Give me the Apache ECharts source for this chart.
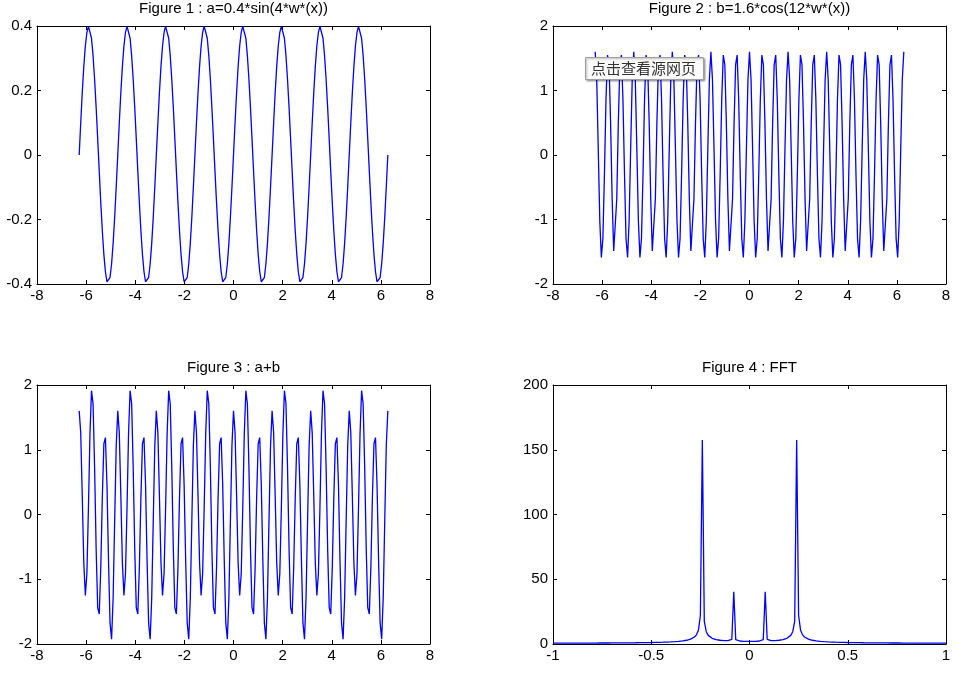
<!DOCTYPE html>
<html><head><meta charset="utf-8">
<script src="https://cdn.jsdelivr.net/npm/echarts@6/dist/echarts.min.js"></script>
<style>html,body{margin:0;padding:0;background:#fff}#c{width:973px;height:675px}</style>
</head><body><div id="c"></div>
<script>
// time samples x (from -2*pi to 2*pi, 201 samples)
const xTime = [
-6.283,-6.220,-6.158,-6.095,-6.032,-5.969,-5.906,-5.843,-5.781,-5.718,
-5.655,-5.592,-5.529,-5.466,-5.404,-5.341,-5.278,-5.215,-5.152,-5.089,
-5.027,-4.964,-4.901,-4.838,-4.775,-4.712,-4.650,-4.587,-4.524,-4.461,
-4.398,-4.335,-4.273,-4.210,-4.147,-4.084,-4.021,-3.958,-3.896,-3.833,
-3.770,-3.707,-3.644,-3.581,-3.519,-3.456,-3.393,-3.330,-3.267,-3.204,
-3.142,-3.079,-3.016,-2.953,-2.890,-2.827,-2.765,-2.702,-2.639,-2.576,
-2.513,-2.450,-2.388,-2.325,-2.262,-2.199,-2.136,-2.073,-2.011,-1.948,
-1.885,-1.822,-1.759,-1.696,-1.634,-1.571,-1.508,-1.445,-1.382,-1.319,
-1.257,-1.194,-1.131,-1.068,-1.005,-0.942,-0.880,-0.817,-0.754,-0.691,
-0.628,-0.565,-0.503,-0.440,-0.377,-0.314,-0.251,-0.188,-0.126,-0.063,
0,
0.063,0.126,0.188,0.251,0.314,0.377,0.440,0.503,0.565,0.628,
0.691,0.754,0.817,0.880,0.942,1.005,1.068,1.131,1.194,1.257,
1.319,1.382,1.445,1.508,1.571,1.634,1.696,1.759,1.822,1.885,
1.948,2.011,2.073,2.136,2.199,2.262,2.325,2.388,2.450,2.513,
2.576,2.639,2.702,2.765,2.827,2.890,2.953,3.016,3.079,3.142,
3.204,3.267,3.330,3.393,3.456,3.519,3.581,3.644,3.707,3.770,
3.833,3.896,3.958,4.021,4.084,4.147,4.210,4.273,4.335,4.398,
4.461,4.524,4.587,4.650,4.712,4.775,4.838,4.901,4.964,5.027,
5.089,5.152,5.215,5.278,5.341,5.404,5.466,5.529,5.592,5.655,
5.718,5.781,5.843,5.906,5.969,6.032,6.095,6.158,6.220,6.283
];

// Figure 1 : a
const aVals = [
0,0.099,0.193,0.274,0.338,0.380,0.399,0.393,0.362,0.308,0.235,0.147,0.050,-0.050,-0.147,-0.235,-0.308,-0.362,-0.393,-0.399,-0.380,-0.338,-0.274,-0.193,-0.099,
0,0.099,0.193,0.274,0.338,0.380,0.399,0.393,0.362,0.308,0.235,0.147,0.050,-0.050,-0.147,-0.235,-0.308,-0.362,-0.393,-0.399,-0.380,-0.338,-0.274,-0.193,-0.099,
0,0.099,0.193,0.274,0.338,0.380,0.399,0.393,0.362,0.308,0.235,0.147,0.050,-0.050,-0.147,-0.235,-0.308,-0.362,-0.393,-0.399,-0.380,-0.338,-0.274,-0.193,-0.099,
0,0.099,0.193,0.274,0.338,0.380,0.399,0.393,0.362,0.308,0.235,0.147,0.050,-0.050,-0.147,-0.235,-0.308,-0.362,-0.393,-0.399,-0.380,-0.338,-0.274,-0.193,-0.099,
0,0.099,0.193,0.274,0.338,0.380,0.399,0.393,0.362,0.308,0.235,0.147,0.050,-0.050,-0.147,-0.235,-0.308,-0.362,-0.393,-0.399,-0.380,-0.338,-0.274,-0.193,-0.099,
0,0.099,0.193,0.274,0.338,0.380,0.399,0.393,0.362,0.308,0.235,0.147,0.050,-0.050,-0.147,-0.235,-0.308,-0.362,-0.393,-0.399,-0.380,-0.338,-0.274,-0.193,-0.099,
0,0.099,0.193,0.274,0.338,0.380,0.399,0.393,0.362,0.308,0.235,0.147,0.050,-0.050,-0.147,-0.235,-0.308,-0.362,-0.393,-0.399,-0.380,-0.338,-0.274,-0.193,-0.099,
0,0.099,0.193,0.274,0.338,0.380,0.399,0.393,0.362,0.308,0.235,0.147,0.050,-0.050,-0.147,-0.235,-0.308,-0.362,-0.393,-0.399,-0.380,-0.338,-0.274,-0.193,-0.099,
0
];

// Figure 2 : b
const bVals = [
1.600,1.166,0.100,-1.020,-1.587,-1.294,-0.300,0.857,1.550,1.402,0.494,-0.681,-1.488,-1.488,-0.681,0.494,1.402,1.550,0.857,-0.300,-1.294,-1.587,-1.020,0.100,1.166,
1.600,1.166,0.100,-1.020,-1.587,-1.294,-0.300,0.857,1.550,1.402,0.494,-0.681,-1.488,-1.488,-0.681,0.494,1.402,1.550,0.857,-0.300,-1.294,-1.587,-1.020,0.100,1.166,
1.600,1.166,0.100,-1.020,-1.587,-1.294,-0.300,0.857,1.550,1.402,0.494,-0.681,-1.488,-1.488,-0.681,0.494,1.402,1.550,0.857,-0.300,-1.294,-1.587,-1.020,0.100,1.166,
1.600,1.166,0.100,-1.020,-1.587,-1.294,-0.300,0.857,1.550,1.402,0.494,-0.681,-1.488,-1.488,-0.681,0.494,1.402,1.550,0.857,-0.300,-1.294,-1.587,-1.020,0.100,1.166,
1.600,1.166,0.100,-1.020,-1.587,-1.294,-0.300,0.857,1.550,1.402,0.494,-0.681,-1.488,-1.488,-0.681,0.494,1.402,1.550,0.857,-0.300,-1.294,-1.587,-1.020,0.100,1.166,
1.600,1.166,0.100,-1.020,-1.587,-1.294,-0.300,0.857,1.550,1.402,0.494,-0.681,-1.488,-1.488,-0.681,0.494,1.402,1.550,0.857,-0.300,-1.294,-1.587,-1.020,0.100,1.166,
1.600,1.166,0.100,-1.020,-1.587,-1.294,-0.300,0.857,1.550,1.402,0.494,-0.681,-1.488,-1.488,-0.681,0.494,1.402,1.550,0.857,-0.300,-1.294,-1.587,-1.020,0.100,1.166,
1.600,1.166,0.100,-1.020,-1.587,-1.294,-0.300,0.857,1.550,1.402,0.494,-0.681,-1.488,-1.488,-0.681,0.494,1.402,1.550,0.857,-0.300,-1.294,-1.587,-1.020,0.100,1.166,
1.600
];

// Figure 3 : a+b
const cVals = [
1.600,1.265,0.293,-0.746,-1.249,-0.914,0.099,1.250,1.912,1.710,0.729,-0.534,-1.438,-1.538,-0.828,0.259,1.094,1.188,0.464,-0.699,-1.674,-1.925,-1.294,-0.093,1.067,
1.600,1.265,0.293,-0.746,-1.249,-0.914,0.099,1.250,1.912,1.710,0.729,-0.534,-1.438,-1.538,-0.828,0.259,1.094,1.188,0.464,-0.699,-1.674,-1.925,-1.294,-0.093,1.067,
1.600,1.265,0.293,-0.746,-1.249,-0.914,0.099,1.250,1.912,1.710,0.729,-0.534,-1.438,-1.538,-0.828,0.259,1.094,1.188,0.464,-0.699,-1.674,-1.925,-1.294,-0.093,1.067,
1.600,1.265,0.293,-0.746,-1.249,-0.914,0.099,1.250,1.912,1.710,0.729,-0.534,-1.438,-1.538,-0.828,0.259,1.094,1.188,0.464,-0.699,-1.674,-1.925,-1.294,-0.093,1.067,
1.600,1.265,0.293,-0.746,-1.249,-0.914,0.099,1.250,1.912,1.710,0.729,-0.534,-1.438,-1.538,-0.828,0.259,1.094,1.188,0.464,-0.699,-1.674,-1.925,-1.294,-0.093,1.067,
1.600,1.265,0.293,-0.746,-1.249,-0.914,0.099,1.250,1.912,1.710,0.729,-0.534,-1.438,-1.538,-0.828,0.259,1.094,1.188,0.464,-0.699,-1.674,-1.925,-1.294,-0.093,1.067,
1.600,1.265,0.293,-0.746,-1.249,-0.914,0.099,1.250,1.912,1.710,0.729,-0.534,-1.438,-1.538,-0.828,0.259,1.094,1.188,0.464,-0.699,-1.674,-1.925,-1.294,-0.093,1.067,
1.600,1.265,0.293,-0.746,-1.249,-0.914,0.099,1.250,1.912,1.710,0.729,-0.534,-1.438,-1.538,-0.828,0.259,1.094,1.188,0.464,-0.699,-1.674,-1.925,-1.294,-0.093,1.067,
1.600
];

// Figure 4 : normalized frequency axis
const freq = [
-1,-0.99,-0.98,-0.97,-0.96,-0.95,-0.94,-0.93,-0.92,-0.91,
-0.9,-0.89,-0.88,-0.87,-0.86,-0.85,-0.84,-0.83,-0.82,-0.81,
-0.8,-0.79,-0.78,-0.77,-0.76,-0.75,-0.74,-0.73,-0.72,-0.71,
-0.7,-0.69,-0.68,-0.67,-0.66,-0.65,-0.64,-0.63,-0.62,-0.61,
-0.6,-0.59,-0.58,-0.57,-0.56,-0.55,-0.54,-0.53,-0.52,-0.51,
-0.5,-0.49,-0.48,-0.47,-0.46,-0.45,-0.44,-0.43,-0.42,-0.41,
-0.4,-0.39,-0.38,-0.37,-0.36,-0.35,-0.34,-0.33,-0.32,-0.31,
-0.3,-0.29,-0.28,-0.27,-0.26,-0.25,-0.24,-0.23,-0.22,-0.21,
-0.2,-0.19,-0.18,-0.17,-0.16,-0.15,-0.14,-0.13,-0.12,-0.11,
-0.1,-0.09,-0.08,-0.07,-0.06,-0.05,-0.04,-0.03,-0.02,-0.01,
0,
0.01,0.02,0.03,0.04,0.05,0.06,0.07,0.08,0.09,0.1,
0.11,0.12,0.13,0.14,0.15,0.16,0.17,0.18,0.19,0.2,
0.21,0.22,0.23,0.24,0.25,0.26,0.27,0.28,0.29,0.3,
0.31,0.32,0.33,0.34,0.35,0.36,0.37,0.38,0.39,0.4,
0.41,0.42,0.43,0.44,0.45,0.46,0.47,0.48,0.49,0.5,
0.51,0.52,0.53,0.54,0.55,0.56,0.57,0.58,0.59,0.6,
0.61,0.62,0.63,0.64,0.65,0.66,0.67,0.68,0.69,0.7,
0.71,0.72,0.73,0.74,0.75,0.76,0.77,0.78,0.79,0.8,
0.81,0.82,0.83,0.84,0.85,0.86,0.87,0.88,0.89,0.9,
0.91,0.92,0.93,0.94,0.95,0.96,0.97,0.98,0.99,1
];

// Figure 4 : FFT magnitude
const fftMag = [
0.68,0.68,0.68,0.68,0.68,0.69,0.69,0.69,0.69,0.69,
0.70,0.70,0.70,0.70,0.71,0.71,0.71,0.72,0.72,0.73,
0.73,0.74,0.74,0.75,0.76,0.76,0.77,0.78,0.78,0.79,
0.80,0.81,0.82,0.83,0.84,0.85,0.86,0.88,0.89,0.90,
0.92,0.93,0.95,0.97,0.99,1.01,1.04,1.06,1.09,1.12,
1.14,1.18,1.21,1.25,1.29,1.33,1.38,1.44,1.50,1.56,
1.64,1.72,1.82,1.93,2.06,2.21,2.39,2.61,2.89,3.25,
3.72,4.38,5.39,7.08,10.57,21.98,157.6,17.42,9.50,6.67,
5.23,4.36,3.79,3.39,3.10,2.89,2.74,2.64,2.60,2.64,
2.83,3.62,40.4,3.39,2.60,2.32,2.17,2.09,2.04,2.01,
2.00,
2.01,2.04,2.09,2.17,2.32,2.60,3.39,40.4,3.62,2.83,
2.64,2.60,2.64,2.74,2.89,3.10,3.39,3.79,4.36,5.23,
6.67,9.50,17.42,157.6,21.98,10.57,7.08,5.39,4.38,3.72,
3.25,2.89,2.61,2.39,2.21,2.06,1.93,1.82,1.72,1.64,
1.56,1.50,1.44,1.38,1.33,1.29,1.25,1.21,1.18,1.14,
1.12,1.09,1.06,1.04,1.01,0.99,0.97,0.95,0.93,0.92,
0.90,0.89,0.88,0.86,0.85,0.84,0.83,0.82,0.81,0.80,
0.79,0.78,0.78,0.77,0.76,0.76,0.75,0.74,0.74,0.73,
0.73,0.72,0.72,0.71,0.71,0.71,0.70,0.70,0.70,0.70,
0.69,0.69,0.69,0.69,0.69,0.68,0.68,0.68,0.68,0.68
];

const titles = ['Figure 1 : a=0.4*sin(4*w*(x))', 'Figure 2 : b=1.6*cos(12*w*(x))', 'Figure 3 : a+b', 'Figure 4 : FFT'];
const xTicks = [[-8, 8, 2], [-8, 8, 2], [-8, 8, 2], [-1, 1, 0.5]];
const yTicks = [[-0.4, 0.4, 0.2], [-2, 2, 1], [-2, 2, 1], [0, 200, 50]];

const FONT = '"Liberation Sans", Arial, Helvetica, sans-serif';
const grids = [
  {left: 37, top: 26, width: 393, height: 258},
  {left: 553, top: 26, width: 393, height: 258},
  {left: 37, top: 385, width: 393, height: 259},
  {left: 553, top: 385, width: 393, height: 259}
];

function mkAxis(i, rng, position, showLabel, isX) {
  return {
    type: 'value', gridIndex: i, min: rng[0], max: rng[1], interval: rng[2], position: position,
    axisLine: {show: true, onZero: false, lineStyle: {color: '#000', width: 1}},
    axisTick: {show: true, inside: true, length: 4, lineStyle: {color: '#000', width: 1}},
    axisLabel: {show: showLabel, color: '#000', fontSize: 15, fontFamily: FONT, margin: isX ? 4 : 5},
    splitLine: {show: false}
  };
}

const xAxis = [], yAxis = [], series = [], title = [];
const seriesData = [
  xTime.map((x, k) => [x, aVals[k]]),
  xTime.map((x, k) => [x, bVals[k]]),
  xTime.map((x, k) => [x, cVals[k]]),
  freq.map((f, k) => [f, fftMag[k]])
];
grids.forEach((g, i) => {
  xAxis.push(mkAxis(i, xTicks[i], 'bottom', true, true));
  xAxis.push(mkAxis(i, xTicks[i], 'top', false, true));
  yAxis.push(mkAxis(i, yTicks[i], 'left', true, false));
  yAxis.push(mkAxis(i, yTicks[i], 'right', false, false));
  series.push({
    type: 'line', xAxisIndex: 2 * i, yAxisIndex: 2 * i, data: seriesData[i],
    showSymbol: false, symbol: 'none', silent: true, clip: true,
    lineStyle: {color: '#0000ff', width: 1.3}
  });
  title.push({
    text: titles[i], left: g.left + g.width / 2, top: g.top - 25, textAlign: 'center', padding: 0,
    textStyle: {fontSize: 15, fontWeight: 'normal', color: '#000', fontFamily: FONT}
  });
});

const chart = echarts.init(document.getElementById('c'), null, {renderer: 'canvas'});
chart.setOption({
  animation: false,
  backgroundColor: '#fff',
  title: title,
  grid: grids,
  xAxis: xAxis,
  yAxis: yAxis,
  series: series,
  graphic: [
    {type: 'rect', z: 100, shape: {x: 585.5, y: 57.5, width: 118, height: 22},
     style: {fill: '#fbfbfb', stroke: '#a0a0a0', lineWidth: 1, shadowBlur: 2, shadowOffsetX: 1, shadowOffsetY: 1, shadowColor: 'rgba(0,0,0,0.35)'}},
    {type: 'text', z: 101, x: 591, y: 68.5,
     style: {text: '点击查看源网页', fill: '#333', font: '15px "Noto Sans CJK SC", sans-serif', verticalAlign: 'middle', textVerticalAlign: 'middle'}}
  ]
});
</script>
</body></html>
